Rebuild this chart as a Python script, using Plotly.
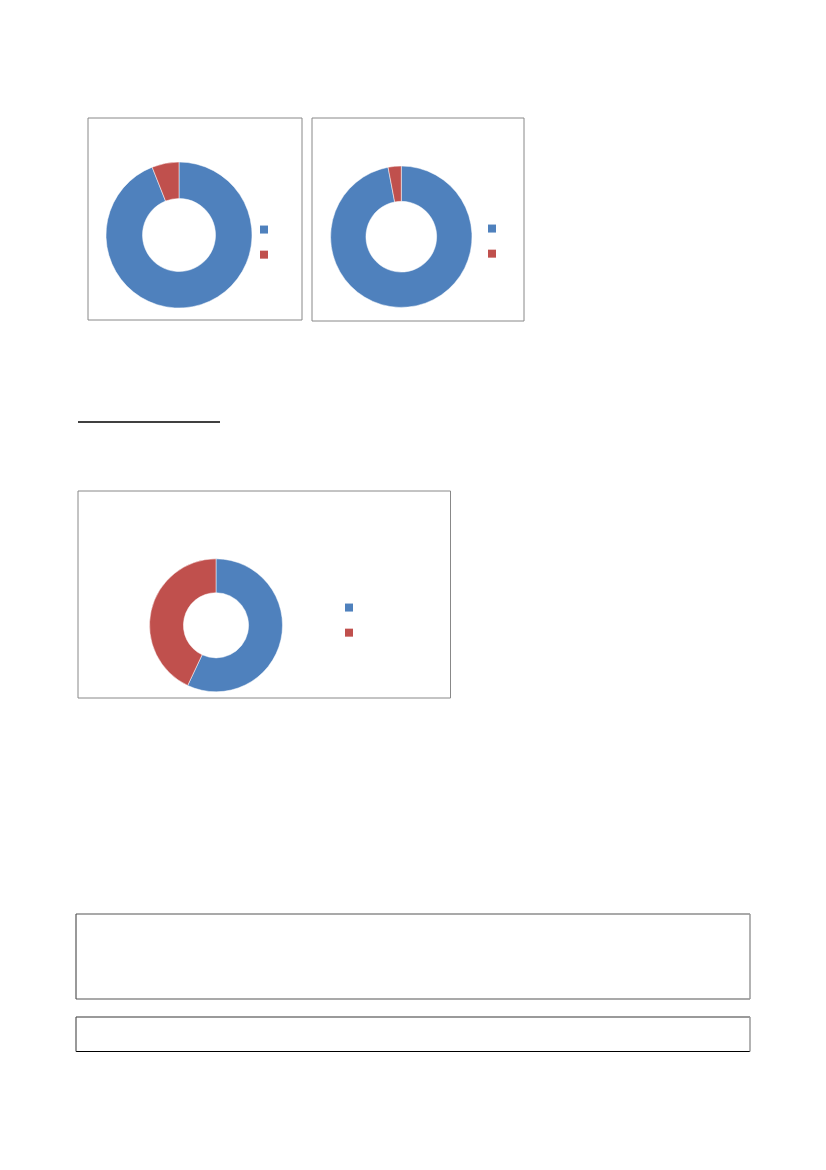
import plotly.graph_objects as go

# donut values (blue, red)
chart1_values = [94, 6]
chart2_values = [97, 3]
chart3_values = [57, 43]
slice_ids = ["1", "2"]
legend_names = ["", ""]

colors = ["#4F81BD", "#C0504D"]

# page is shown with an 8px body margin; keep reference pixel coords
OFF = 8
W, H = 826 - OFF, 1170 - OFF


def px_x(v):
    return (v - OFF) / W


def px_y(v):
    return 1 - (v - OFF) / H


def donut_domain(cx, cy, r):
    return {'x': [px_x(cx - r), px_x(cx + r)], 'y': [px_y(cy + r), px_y(cy - r)]}


fig = go.Figure()

donuts = [
    (chart1_values, donut_domain(179, 235, 73), 0.5, 'legend'),
    (chart2_values, donut_domain(401.3, 236.7, 70.7), 0.5, 'legend2'),
    (chart3_values, donut_domain(216, 625.3, 66.5), 0.49, 'legend3'),
]

for vals, dom, hole, leg in donuts:
    fig.add_trace(go.Pie(
        labels=slice_ids, values=vals, hole=hole, domain=dom,
        sort=False, direction='clockwise', rotation=0,
        textinfo='none', showlegend=False,
        marker={'colors': colors, 'line': {'color': 'white', 'width': 0.5}}))
    # legend entries with small square swatches
    for name, col in zip(legend_names, colors):
        fig.add_trace(go.Scatter(
            x=[None], y=[None], mode='markers', name=name, legend=leg,
            marker={'symbol': 'square', 'size': 8, 'color': col}))

shapes = []
# chart frames
for x0, y0, x1, y1 in [(88, 118, 302, 320), (312, 118, 524, 321), (78, 491, 450.5, 698)]:
    shapes.append(dict(type='rect', x0=x0, y0=y0, x1=x1, y1=y1,
                       line={'color': '#888888', 'width': 1}))

# underline
shapes.append(dict(type='line', x0=78, y0=422, x1=220, y1=422,
                   line={'color': 'black', 'width': 1.5}))


# bottom boxes, edges drawn separately (different shades)
def edge(x0, y0, x1, y1, color, width):
    return dict(type='line', x0=x0, y0=y0, x1=x1, y1=y1,
                line={'color': color, 'width': width})


shapes += [
    edge(76, 914, 750, 914, '#555555', 1.2),
    edge(76, 999, 750, 999, '#555555', 1.2),
    edge(76, 914, 76, 999, '#555555', 1.2),
    edge(750, 914, 750, 999, '#9a9a9a', 1.5),
    edge(76, 1017, 750, 1017, '#9a9a9a', 1.8),
    edge(76, 1051.5, 750, 1051.5, '#000000', 1.2),
    edge(76, 1017, 76, 1051.5, '#555555', 1.2),
    edge(750, 1017, 750, 1051.5, '#9a9a9a', 1.5),
]

legend_style = dict(xanchor='left', yanchor='top', bgcolor='rgba(0,0,0,0)',
                    borderwidth=0, font={'size': 17, 'family': 'Liberation Sans'},
                    itemsizing='trace')

fig.update_layout(
    width=W, height=H,
    margin={'l': 0, 'r': 0, 't': 0, 'b': 0},
    paper_bgcolor='white', plot_bgcolor='white',
    xaxis={'range': [OFF, 826], 'visible': False, 'fixedrange': True},
    yaxis={'range': [1170, OFF], 'visible': False, 'fixedrange': True},
    shapes=shapes,
    legend=dict(x=px_x(244), y=px_y(212), **legend_style),
    legend2=dict(x=px_x(472), y=px_y(211), **legend_style),
    legend3=dict(x=px_x(329), y=px_y(590), **legend_style),
)

fig.write_html("out.html")
